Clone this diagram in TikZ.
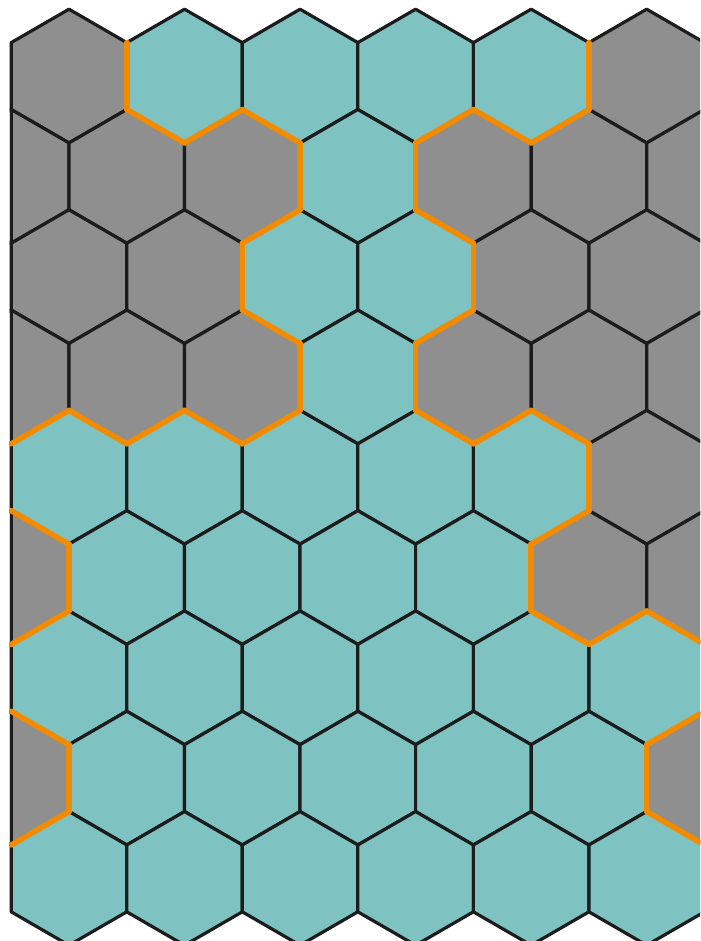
\documentclass[tikz,border=0pt]{standalone}

\definecolor{tuerkis}{RGB}{126,195,194}
\definecolor{grau}{RGB}{143,143,143}
\definecolor{orangerand}{RGB}{242,139,0}
\definecolor{kante}{RGB}{28,28,28}

\tikzset{
  wabe/.style={draw=kante, line width=0.064cm, line cap=round},
  grenze/.style={draw=orangerand, line width=0.11cm, line cap=round}
}

% Wabenbelegung: Zeile r, Spalte k (0 = tuerkis, 1 = grau, 9 = keine Wabe)
\def\wabenkarte{{%
  9,1,9,0,9,0,9,0,9,0,9,1,9,% Zeile 0
  1,9,1,9,1,9,0,9,1,9,1,9,1,% Zeile 1
  9,1,9,1,9,0,9,0,9,1,9,1,9,% Zeile 2
  1,9,1,9,1,9,0,9,1,9,1,9,1,% Zeile 3
  9,0,9,0,9,0,9,0,9,0,9,1,9,% Zeile 4
  1,9,0,9,0,9,0,9,0,9,1,9,1,% Zeile 5
  9,0,9,0,9,0,9,0,9,0,9,0,9,% Zeile 6
  1,9,0,9,0,9,0,9,0,9,0,9,1,% Zeile 7
  9,0,9,0,9,0,9,0,9,0,9,0,9% Zeile 8
}}

\begin{document}
\begin{tikzpicture}[x=1.1554cm, y=-0.6686cm, line join=round]

    % Rahmen
    \useasboundingbox (-0.194,-0.275) rectangle (11.923,27.873);

    \begin{scope}
        \clip (-0.026,-1) rectangle (11.923,27.873);

        % Waben fuellen und umranden
        \foreach \r in {0,...,8} {
            \foreach \k in {0,...,12} {
                \pgfmathtruncatemacro{\wert}{\wabenkarte[\r*13+\k]}
                \ifnum\wert<9
                    \ifnum\wert=1 \def\farbe{grau}\else\def\farbe{tuerkis}\fi
                    \filldraw[wabe, fill=\farbe]
                    (\k,3*\r) -- (\k+1,3*\r+1) -- (\k+1,3*\r+3)
                    -- (\k,3*\r+4) -- (\k-1,3*\r+3) -- (\k-1,3*\r+1) -- cycle;
                \fi
            }
        }

        % linker Rand
        \draw[wabe] (0,1) -- (0,27);

        % Grenzen zwischen grau und tuerkis (orange)
        \foreach \r in {0,...,8} {
            \foreach \k in {0,...,12} {
                \pgfmathtruncatemacro{\wert}{\wabenkarte[\r*13+\k]}
                \ifnum\wert<9
                    % rechter Nachbar
                    \ifnum\k<11
                        \pgfmathtruncatemacro{\nachbar}{\wabenkarte[\r*13+\k+2]}
                        \ifnum\nachbar=\wert\else
                            \draw[grenze] (\k+1,3*\r+1) -- (\k+1,3*\r+3);
                        \fi
                    \fi
                    \ifnum\r<8
                        % Nachbar unten rechts
                        \ifnum\k<12
                            \pgfmathtruncatemacro{\nachbar}{\wabenkarte[(\r+1)*13+\k+1]}
                            \ifnum\nachbar=\wert\else
                                \draw[grenze] (\k+1,3*\r+3) -- (\k,3*\r+4);
                            \fi
                        \fi
                        % Nachbar unten links
                        \ifnum\k>0
                            \pgfmathtruncatemacro{\nachbar}{\wabenkarte[(\r+1)*13+\k-1]}
                            \ifnum\nachbar=\wert\else
                                \draw[grenze] (\k,3*\r+4) -- (\k-1,3*\r+3);
                            \fi
                        \fi
                    \fi
                \fi
            }
        }
    \end{scope}

\end{tikzpicture}
\end{document}
